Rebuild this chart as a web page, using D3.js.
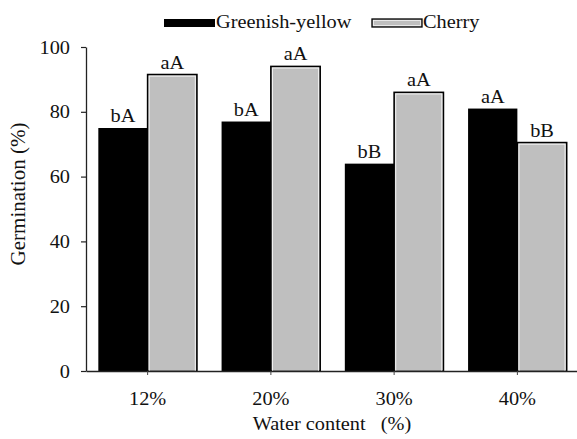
<!DOCTYPE html>
<html>
<head>
<meta charset="utf-8">
<script src="https://cdn.jsdelivr.net/npm/d3@7"></script>
<style>
  body { margin: 0; background: #fff; }
  text { font-family: "Liberation Serif", "Times New Roman", serif; fill: #111; white-space: pre; }
</style>
</head>
<body>
<div id="chart"></div>
<script>
// values
const waterContent = ["12%", "20%", "30%", "40%"];
const seriesNames = ["Greenish-yellow", "Cherry"];
const greenishYellow = [75, 77, 64, 81];
const cherry = [91.5, 94, 86, 70.5];
const greenishLetters = ["bA", "bA", "bB", "aA"];
const cherryLetters = ["aA", "aA", "aA", "bB"];
const yTicks = [0, 20, 40, 60, 80, 100];

const colors = { "Greenish-yellow": "#000", "Cherry": "#bfbfbf" };

const width = 577, height = 439;
const margin = { top: 47, right: -2, bottom: 68, left: 86 };
const innerW = width - margin.left - margin.right;
const innerH = height - margin.top - margin.bottom;
const sx = 1.13; // horizontal stretch of the text in the picture
const fs = 18;

const svg = d3.select("#chart")
  .append("svg")
  .attr("width", width)
  .attr("height", height);

const g = svg.append("g")
  .attr("transform", `translate(${margin.left},${margin.top})`);

const x0 = d3.scaleBand()
  .domain(waterContent)
  .range([0, innerW])
  .paddingInner(0.2)
  .paddingOuter(0.1);

const x1 = d3.scaleBand()
  .domain(seriesNames)
  .range([0, x0.bandwidth()]);

const y = d3.scaleLinear().domain([0, 100]).range([innerH, 0]);

const rows = waterContent.map((w, i) => ({
  key: w,
  values: [
    { name: "Greenish-yellow", value: greenishYellow[i], letter: greenishLetters[i] },
    { name: "Cherry", value: cherry[i], letter: cherryLetters[i] }
  ]
}));

// stretched text helper
function sText(sel, tx, ty, str, size, anchor) {
  return sel.append("text")
    .attr("transform", `translate(${tx},${ty}) scale(${sx},1)`)
    .attr("text-anchor", anchor || "middle")
    .attr("xml:space", "preserve")
    .style("font-size", size + "px")
    .text(str);
}

const groups = g.selectAll(".grp")
  .data(rows)
  .join("g")
  .attr("class", "grp")
  .attr("transform", d => `translate(${x0(d.key)},0)`);

groups.each(function (d) {
  const grp = d3.select(this);
  d.values.forEach(v => {
    const bx = x1(v.name), bw = x1.bandwidth();
    const by = y(v.value), bh = innerH - y(v.value);
    if (v.name === "Cherry") {
      grp.append("rect")
        .attr("x", bx).attr("y", by).attr("width", bw).attr("height", bh)
        .attr("fill", colors[v.name])
        .attr("stroke", "#000").attr("stroke-width", 1.6);
      grp.append("rect")
        .attr("x", bx + 1.6).attr("y", by + 1.6).attr("width", bw - 3.2).attr("height", bh - 1.6)
        .attr("fill", "none")
        .attr("stroke", "#f2f2f2").attr("stroke-width", 1);
    } else {
      grp.append("rect")
        .attr("x", bx).attr("y", by).attr("width", bw).attr("height", bh)
        .attr("fill", colors[v.name]);
    }
    sText(grp, bx + bw / 2, by - 6, v.letter, fs);
  });
});

// axes
const yAxis = g.append("g")
  .call(d3.axisLeft(y).tickValues(yTicks).tickSize(5).tickPadding(8).tickSizeOuter(0));
yAxis.select(".domain").attr("stroke", "#222").attr("stroke-width", 1.3);
yAxis.selectAll(".tick line").attr("stroke", "#222").attr("stroke-width", 1.2);
yAxis.selectAll(".tick text").each(function (d) {
  const t = d3.select(this);
  t.attr("transform", `scale(${sx},1)`)
    .attr("x", -16 / sx)
    .style("font-size", fs + "px")
    .style("font-family", "Liberation Serif, Times New Roman, serif")
    .attr("dy", "0.34em");
});

const xAxis = g.append("g")
  .attr("transform", `translate(0,${innerH})`)
  .call(d3.axisBottom(x0).tickSize(4).tickSizeOuter(0).tickFormat(""));
xAxis.select(".domain").attr("stroke", "#222").attr("stroke-width", 1.5);
xAxis.selectAll(".tick line").attr("stroke", "#444").attr("stroke-width", 1);

waterContent.forEach(w => {
  sText(g, x0(w) + x0.bandwidth() / 2, 405 - margin.top, w, fs);
});

// axis titles
sText(g, 332 - margin.left, 430 - margin.top, "Water content   (%)", fs);

g.append("text")
  .attr("transform", `translate(${25 - margin.left},${194 - margin.top}) rotate(-90)`)
  .attr("text-anchor", "middle")
  .style("font-size", "21px")
  .text("Germination (%)");

// legend
const legend = svg.append("g");
legend.append("rect")
  .attr("x", 164).attr("y", 19).attr("width", 51).attr("height", 8)
  .attr("fill", "#000");
sText(legend, 216, 28, "Greenish-yellow", fs, "start");
legend.append("rect")
  .attr("x", 372).attr("y", 19).attr("width", 50).attr("height", 8)
  .attr("fill", "#bfbfbf").attr("stroke", "#000").attr("stroke-width", 1.3);
legend.append("rect")
  .attr("x", 373.5).attr("y", 20.5).attr("width", 47).attr("height", 5)
  .attr("fill", "none").attr("stroke", "#f2f2f2").attr("stroke-width", 0.8);
sText(legend, 423, 28, "Cherry", fs, "start");
</script>
</body>
</html>
